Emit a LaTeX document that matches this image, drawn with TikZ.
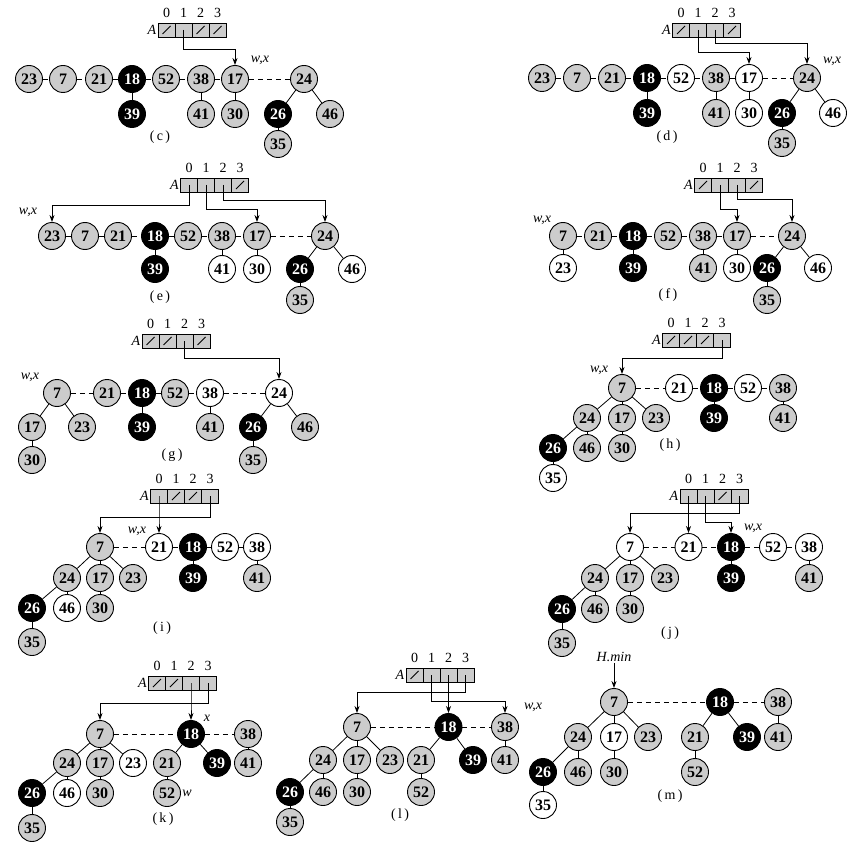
\documentclass[tikz,border=0pt]{standalone}
\usepackage{fontspec}
\setmainfont{Liberation Serif}
\usetikzlibrary{arrows.meta}

\begin{document}
\begin{tikzpicture}[x=1pt, y=-1pt, font=\fontsize{14}{16}\selectfont,
  Key/.style={circle, draw, line width=0.9pt, minimum size=27pt, inner sep=0pt, font=\fontsize{16}{16}\selectfont\bfseries},
  Gray/.style={Key, fill=black!20},
  Plain/.style={Key, fill=white},
  Marked/.style={Key, fill=black, text=white},
  Cell/.style={draw, line width=0.8pt, fill=black!20, minimum width=17pt, minimum height=14pt, inner sep=0pt},
  Slash/.style={line width=0.8pt},
  Root/.style={line width=0.8pt, dash pattern=on 5pt off 4pt},
  Link/.style={line width=0.8pt},
  Pointer/.style={->, >={Stealth[length=7pt, width=5pt]}, line width=0.8pt},
  Caption/.style={inner sep=1pt}]

\useasboundingbox (0,0) rectangle (867,850);

% array A of every step: panel / x of slot 0 / y / slot is nil (1) or not (0)
\foreach \p/\x/\y/\ua/\ub/\uc/\ud in {c/166.5/30/1/0/1/1, d/681/30/1/0/0/1, e/189/185/0/0/0/1, f/703/185/1/0/0/1,
    g/150.5/341/1/1/0/1, h/671/340/1/1/1/0, i/159/496/0/1/1/0, j/688.5/496/0/0/1/0, k/157/683/1/1/0/0, l/414.5/675/1/0/0/0} {
  \node [Caption, anchor=east] (\p A) at (\x-9, \y) {\textit{A}};
  \foreach \n/\e in {0/\ua, 1/\ub, 2/\uc, 3/\ud} {
    \node [Cell] (\p A\n) at (\x+17*\n, \y) {};
    \node [Caption, above=4pt] (\p I\n) at (\p A\n.north) {\n};
    \ifnum\e=1 \draw [Slash] ([shift={(-4,4)}]\p A\n.center) -- ([shift={(4,-4)}]\p A\n.center); \fi
  }
}

% (c)
\foreach \x/\y/\n/\s in {29/79/23/Gray, 63/79/7/Gray, 99/79/21/Gray, 132/79/18/Marked, 166/79/52/Gray, 201/79/38/Gray, 235/79/17/Gray, 304/79/24/Gray,
    132/114/39/Marked, 201/114/41/Gray, 235/114/30/Gray, 278/114/26/Marked, 330/114/46/Gray, 278/144/35/Gray} {
  \node [\s] (c\n) at (\x, \y) {\n};
}

% (d)
\foreach \x/\y/\n/\s in {542/78/23/Gray, 577/78/7/Gray, 612/78/21/Gray, 647/78/18/Marked, 681/78/52/Plain, 716/78/38/Gray, 749/78/17/Plain, 807/78/24/Gray,
    647/113/39/Marked, 716/113/41/Gray, 749/113/30/Plain, 782/113/26/Marked, 833/113/46/Plain, 782/143/35/Gray} {
  \node [\s] (d\n) at (\x, \y) {\n};
}

% (e)
\foreach \x/\y/\n/\s in {52/236/23/Gray, 85/236/7/Gray, 118/236/21/Gray, 155/236/18/Marked, 188/236/52/Gray, 222/236/38/Gray, 257/236/17/Gray, 325/236/24/Gray,
    155/269/39/Marked, 222/269/41/Plain, 257/269/30/Plain, 300/269/26/Marked, 352/269/46/Plain, 300/300/35/Gray} {
  \node [\s] (e\n) at (\x, \y) {\n};
}

% (f)
\foreach \x/\y/\n/\s in {563/236/7/Gray, 598/236/21/Gray, 633/236/18/Marked, 668/236/52/Gray, 703/236/38/Gray, 737/236/17/Gray, 792/236/24/Gray,
    563/268/23/Plain, 633/268/39/Marked, 703/268/41/Gray, 737/268/30/Plain, 767/268/26/Marked, 818/268/46/Plain, 767/300/35/Gray} {
  \node [\s] (f\n) at (\x, \y) {\n};
}

% (g)
\foreach \x/\y/\n/\s in {57/393/7/Gray, 107/393/21/Gray, 142/393/18/Marked, 175/393/52/Gray, 210/393/38/Plain, 279/393/24/Plain,
    32/427/17/Gray, 82/427/23/Gray, 142/427/39/Marked, 210/427/41/Gray, 253/427/26/Marked, 305/427/46/Gray, 32/460/30/Gray, 253/460/35/Gray} {
  \node [\s] (g\n) at (\x, \y) {\n};
}

% (h)
\foreach \x/\y/\n/\s in {622/388/7/Gray, 679/388/21/Plain, 714/388/18/Marked, 748/388/52/Plain, 783/388/38/Gray,
    587/418/24/Gray, 622/418/17/Gray, 656/418/23/Gray, 714/418/39/Marked, 783/418/41/Gray,
    553/448/26/Marked, 587/448/46/Gray, 622/448/30/Gray, 553/478/35/Plain} {
  \node [\s] (h\n) at (\x, \y) {\n};
}

% (i)
\foreach \x/\y/\n/\s in {100/547/7/Gray, 159/547/21/Plain, 193/547/18/Marked, 225/547/52/Plain, 257/547/38/Plain,
    67/578/24/Gray, 100/578/17/Gray, 133/578/23/Gray, 193/578/39/Marked, 257/578/41/Gray,
    32/608/26/Marked, 67/608/46/Plain, 100/608/30/Gray, 32/642/35/Gray} {
  \node [\s] (i\n) at (\x, \y) {\n};
}

% (j)
\foreach \x/\y/\n/\s in {630/547/7/Plain, 688.5/547/21/Plain, 731/547/18/Marked, 773/547/52/Plain, 809/547/38/Plain,
    595/578/24/Gray, 630/578/17/Gray, 665/578/23/Gray, 731/578/39/Marked, 809/578/41/Gray,
    562/609/26/Marked, 595/609/46/Gray, 630/609/30/Gray, 562/643/35/Gray} {
  \node [\s] (j\n) at (\x, \y) {\n};
}

% (k)
\foreach \x/\y/\n/\s in {100/734/7/Gray, 191/734/18/Marked, 248/734/38/Gray,
    67/763/24/Gray, 100/763/17/Gray, 133/763/23/Plain, 167/763/21/Gray, 217/763/39/Marked, 248/763/41/Gray,
    32/793/26/Marked, 67/793/46/Plain, 100/793/30/Gray, 167/793/52/Gray, 32/828/35/Gray} {
  \node [\s] (k\n) at (\x, \y) {\n};
}

% (l)
\foreach \x/\y/\n/\s in {357/727/7/Gray, 448.5/727/18/Marked, 505/727/38/Gray,
    323/760/24/Gray, 357/760/17/Gray, 390/760/23/Gray, 421/760/21/Gray, 473/760/39/Marked, 505/760/41/Gray,
    290/792/26/Marked, 323/792/46/Gray, 357/792/30/Gray, 421/792/52/Gray, 290/822/35/Gray} {
  \node [\s] (l\n) at (\x, \y) {\n};
}

% (m)
\foreach \x/\y/\n/\s in {614/702/7/Gray, 720/702/18/Marked, 778/702/38/Gray,
    578/737/24/Gray, 614/737/17/Plain, 648/737/23/Gray, 695/737/21/Gray, 747/737/39/Marked, 778/737/41/Gray,
    543/772/26/Marked, 578/772/46/Gray, 614/772/30/Gray, 695/772/52/Gray, 543/805/35/Plain} {
  \node [\s] (m\n) at (\x, \y) {\n};
}

% root lists
\foreach \p in {c, d, e} {
  \foreach \u/\v in {23/7, 7/21, 21/18, 18/52, 52/38, 38/17, 17/24} \draw [Root] (\p\u) -- (\p\v);
}
\foreach \u/\v in {7/21, 21/18, 18/52, 52/38, 38/17, 17/24} \draw [Root] (f\u) -- (f\v);
\foreach \u/\v in {7/21, 21/18, 18/52, 52/38, 38/24} \draw [Root] (g\u) -- (g\v);
\foreach \p in {h, i, j} {
  \foreach \u/\v in {7/21, 21/18, 18/52, 52/38} \draw [Root] (\p\u) -- (\p\v);
}
\foreach \p in {k, l, m} {
  \foreach \u/\v in {7/18, 18/38} \draw [Root] (\p\u) -- (\p\v);
}

% children
\foreach \p in {c, d, e} {
  \foreach \u/\v in {18/39, 38/41, 17/30, 24/26, 24/46, 26/35} \draw [Link] (\p\u) -- (\p\v);
}
\foreach \u/\v in {7/23, 18/39, 38/41, 17/30, 24/26, 24/46, 26/35} \draw [Link] (f\u) -- (f\v);
\foreach \u/\v in {7/17, 7/23, 17/30, 18/39, 38/41, 24/26, 24/46, 26/35} \draw [Link] (g\u) -- (g\v);
\foreach \p in {h, i, j} {
  \foreach \u/\v in {7/24, 7/17, 7/23, 24/26, 24/46, 17/30, 26/35, 18/39, 38/41} \draw [Link] (\p\u) -- (\p\v);
}
\foreach \p in {k, l, m} {
  \foreach \u/\v in {7/24, 7/17, 7/23, 24/26, 24/46, 17/30, 26/35, 18/21, 18/39, 21/52, 38/41} \draw [Link] (\p\u) -- (\p\v);
}

% pointers out of A
\foreach \u/\lev/\v in {cA1/49/c17, dA1/52/d17, dA2/43/d24, eA0/205/e23, eA1/209/e17, eA2/200/e24, fA1/209/f17, fA2/199/f24,
    gA2/358/g24, hA3/358/h7, iA3/517/i7, iA0/520/i21, jA3/513/j7, jA0/520/j21, jA1/522/j18,
    kA3/703/k7, kA2/705/k18, lA3/692/l7, lA2/705/l18, lA1/701/l38} {
  \draw [Pointer] (\u.center) -- (\u.center |- 0,\lev) -| (\v.north);
}

\node [Caption] (hmin) at (614,657) {\textit{H.min}};
\draw [Pointer] (hmin) -- (m7);

\foreach \p/\x/\y in {c/260/60, d/832/61, e/28/212, f/542/220, g/30/377, h/599/370, i/137/531, j/753/528, l/533/707} {
  \node [Caption] (\p wx) at (\x, \y) {\textit{w,x}};
}
\node [Caption] (kx) at (207,718) {\textit{x}};
\node [Caption] (kw) at (187,793) {\textit{w}};

\foreach \p/\x/\y in {c/160/137, d/667/137, e/160/297, f/668/295, g/172/455, h/670/445, i/162/628, j/670/633, k/163/819, l/400/815, m/670/796} {
  \node [Caption] (\p cap) at (\x, \y) {(\,\p\,)};
}
\end{tikzpicture}
\end{document}
